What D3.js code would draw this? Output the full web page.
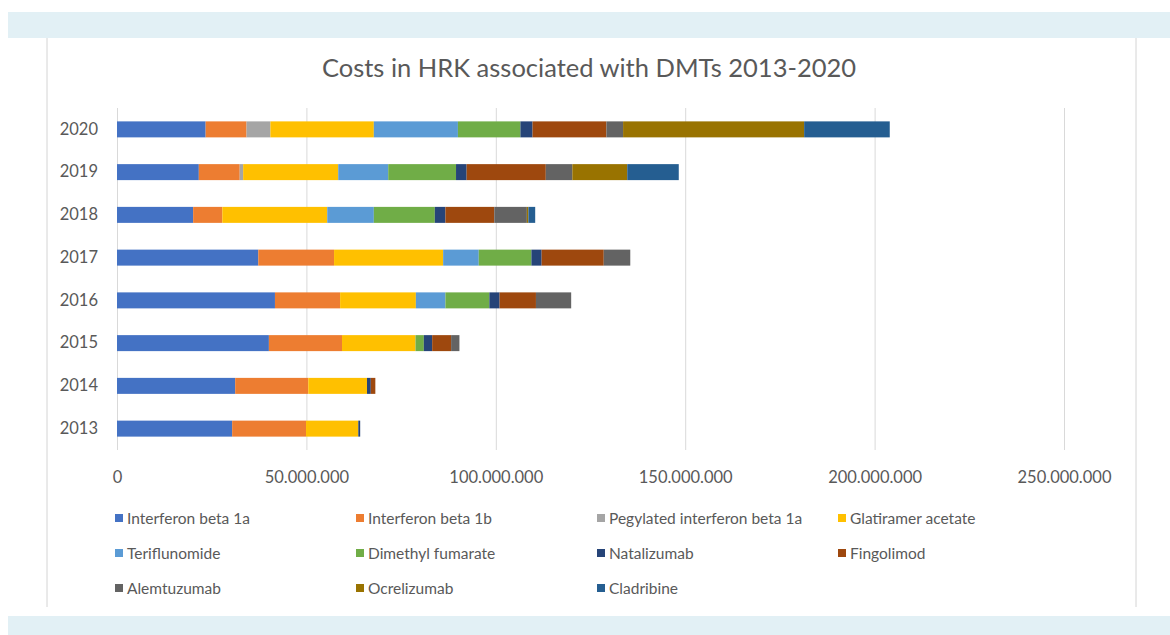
<!DOCTYPE html>
<html>
<head>
<meta charset="utf-8">
<script src="https://cdn.jsdelivr.net/npm/d3@7"></script>
<style>
  body { margin: 0; background: #fff; }
  svg { display: block; font-family: Lato, "Open Sans", sans-serif; }
  .tick text { fill: #595959; }
</style>
</head>
<body>
<svg id="chart"></svg>
<script>
// values in millions of HRK, one entry per year
var years = ['2013', '2014', '2015', '2016', '2017', '2018', '2019', '2020'];

var interferonBeta1a   = [30.4, 31.2, 40.1, 41.7, 37.3, 20.1, 21.6, 23.4];
var interferonBeta1b   = [19.5, 19.3, 19.3, 17.2, 20.0,  7.7, 10.8, 10.8];
var pegylatedIfnBeta1a = [0, 0, 0, 0, 0, 0, 0.9, 6.3];
var glatiramerAcetate  = [13.8, 15.5, 19.4, 20.0, 28.8, 27.7, 25.1, 27.3];
var teriflunomide      = [0, 0, 0, 7.8, 9.4, 12.3, 13.2, 22.2];
var dimethylFumarate   = [0, 0, 2.2, 11.6, 13.9, 16.1, 17.9, 16.5];
var natalizumab        = [0.5, 1.0, 2.2, 2.7, 2.7, 2.8, 2.8, 3.2];
var fingolimod         = [0, 1.2, 5.0, 9.6, 16.4, 12.9, 20.9, 19.5];
var alemtuzumab        = [0, 0, 2.2, 9.3, 7.0, 8.6, 7.0, 4.4];
var ocrelizumab        = [0, 0, 0, 0, 0, 0.4, 14.5, 47.8];
var cladribine         = [0, 0, 0, 0, 0, 1.8, 13.6, 22.6];

var drugNames = [
  'Interferon beta 1a', 'Interferon beta 1b', 'Pegylated interferon beta 1a',
  'Glatiramer acetate', 'Teriflunomide', 'Dimethyl fumarate', 'Natalizumab',
  'Fingolimod', 'Alemtuzumab', 'Ocrelizumab', 'Cladribine'
];
var drugValues = [
  interferonBeta1a, interferonBeta1b, pegylatedIfnBeta1a, glatiramerAcetate,
  teriflunomide, dimethylFumarate, natalizumab, fingolimod, alemtuzumab,
  ocrelizumab, cladribine
];
var xTicks = [0, 50e6, 100e6, 150e6, 200e6, 250e6];

var colors = ['#4472c4', '#ed7d31', '#a5a5a5', '#ffc000', '#5b9bd5', '#70ad47',
              '#264478', '#9e480e', '#636363', '#997300', '#255e91'];

var width = 1170, height = 635;
var svg = d3.select('#chart').attr('width', width).attr('height', height);

// page frame
svg.append('rect').attr('x', 8).attr('y', 12).attr('width', width - 8).attr('height', 26).attr('fill', '#e2f0f5');
svg.append('rect').attr('x', 8).attr('y', 616).attr('width', width - 8).attr('height', 19).attr('fill', '#e2f0f5');
svg.append('line').attr('x1', 47).attr('x2', 47).attr('y1', 38).attr('y2', 607).attr('stroke', '#d4d4d4');
svg.append('line').attr('x1', 1136).attr('x2', 1136).attr('y1', 38).attr('y2', 607).attr('stroke', '#d4d4d4');

// table: one row per year
var table = years.map(function(yr, i) {
  var row = { year: yr };
  drugNames.forEach(function(name, j) { row[name] = drugValues[j][i] * 1e6; });
  return row;
});

var x = d3.scaleLinear().domain([0, 250e6]).range([117, 1064]);
var y = d3.scaleBand().domain(years.slice().reverse()).range([108, 450])
  .paddingInner(0.626).paddingOuter(0.313);

var hr = d3.formatLocale({ decimal: ',', thousands: '.', grouping: [3], currency: ['', ''] });
var fmt = hr.format(',');

// Gridlines
svg.append('g')
  .attr('transform', 'translate(0,450)')
  .call(d3.axisBottom(x).tickValues(xTicks).tickSize(-342).tickFormat(''))
  .call(function(g) {
    g.select('.domain').remove();
    g.selectAll('line').attr('stroke', '#d9d9d9');
  });

// Bars
var stack = d3.stack().keys(drugNames);
var series = stack(table);

svg.append('g').selectAll('g')
  .data(series)
  .enter()
  .append('g')
  .attr('fill', function(d, i) { return colors[i]; })
  .selectAll('rect')
  .data(function(d) { return d; })
  .enter()
  .append('rect')
  .attr('x', function(d) { return x(d[0]); })
  .attr('y', function(d) { return y(d.data.year); })
  .attr('width', function(d) { return Math.max(0, x(d[1]) - x(d[0])); })
  .attr('height', y.bandwidth());

// Axes labels
svg.append('g')
  .attr('transform', 'translate(0,450)')
  .call(d3.axisBottom(x).tickValues(xTicks).tickSize(0).tickPadding(21).tickFormat(fmt))
  .call(function(g) {
    g.select('.domain').remove();
    g.selectAll('text').attr('font-size', 16.5).attr('font-family', 'Lato, sans-serif');
  });

svg.append('g')
  .attr('transform', 'translate(117,0)')
  .call(d3.axisLeft(y).tickSize(0).tickPadding(19))
  .call(function(g) {
    g.select('.domain').remove();
    g.selectAll('text').attr('font-size', 16.5).attr('font-family', 'Lato, sans-serif');
  });

// Title
svg.append('text')
  .attr('x', 589).attr('y', 77)
  .attr('text-anchor', 'middle')
  .attr('font-size', 25.5)
  .attr('fill', '#595959')
  .text('Costs in HRK associated with DMTs 2013-2020');

// Legend, 4 columns
var legend = svg.append('g').selectAll('g')
  .data(drugNames)
  .enter()
  .append('g')
  .attr('transform', function(d, i) {
    return 'translate(' + (115 + (i % 4) * 241) + ',' + (518 + Math.floor(i / 4) * 35) + ')';
  });

legend.append('rect')
  .attr('x', 0).attr('y', -4)
  .attr('width', 8).attr('height', 8)
  .attr('fill', function(d, i) { return colors[i]; });

legend.append('text')
  .attr('x', 12).attr('y', 5.5)
  .attr('font-size', 15.5)
  .attr('fill', '#595959')
  .text(function(d) { return d; });
</script>
</body>
</html>
